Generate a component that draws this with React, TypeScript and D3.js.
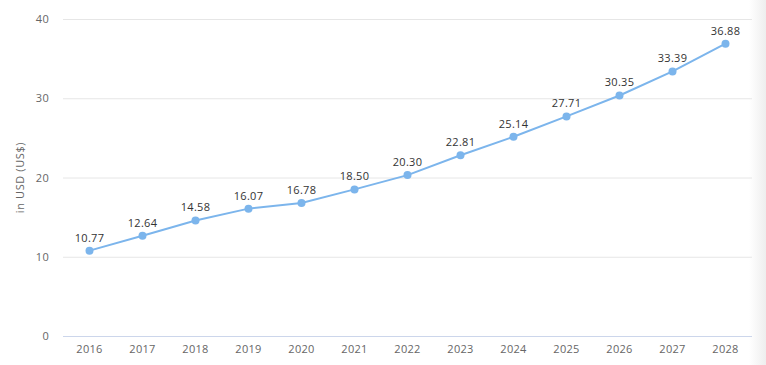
import React from 'react';
import * as d3 from 'd3';

const years = ['2016', '2017', '2018', '2019', '2020', '2021', '2022', '2023', '2024', '2025', '2026', '2027', '2028'];
const values = [10.77, 12.64, 14.58, 16.07, 16.78, 18.5, 20.3, 22.81, 25.14, 27.71, 30.35, 33.39, 36.88];
const yTicks = [0, 10, 20, 30, 40];

const W = 766;
const H = 365;
const left = 63;
const right = 752;
const top = 19;
const bottom = 336;

export default function App() {
  const x = d3.scaleBand<string>().domain(years).range([left, right]);
  const y = d3.scaleLinear().domain([0, 40]).range([bottom, top]);
  const cx = (d: string) => (x(d) ?? 0) + x.bandwidth() / 2;

  const line = d3
    .line<number>()
    .x((_, i) => cx(years[i]))
    .y((d) => y(d));

  const font = '"Open Sans", "DejaVu Sans", sans-serif';

  return (
    <svg
      width={W}
      height={H}
      style={{ position: 'absolute', left: 0, top: 0, background: '#fff' }}
      fontFamily={font}
    >
      <defs>
        <linearGradient id="edge" x1="0" x2="1" y1="0" y2="0">
          <stop offset="0" stopColor="#fff" />
          <stop offset="1" stopColor="#eeeeee" />
        </linearGradient>
      </defs>
      <rect x={749} y={0} width={17} height={H} fill="url(#edge)" />

      {/* gridlines */}
      {yTicks.map((t) => (
        <g key={t}>
          {t !== 0 && (
            <line x1={left} x2={right} y1={y(t) + 0.5} y2={y(t) + 0.5} stroke="#e6e6e6" strokeWidth={1} />
          )}
          <text x={49} y={y(t) + 4} textAnchor="end" fontSize={11} fill="#666" letterSpacing={0.3}>
            {t}
          </text>
        </g>
      ))}
      <line x1={left} x2={right} y1={bottom + 0.5} y2={bottom + 0.5} stroke="#ccd6eb" strokeWidth={1} />

      {years.map((yr) => (
        <text key={yr} x={cx(yr)} y={353} textAnchor="middle" fontSize={11} fill="#666" letterSpacing={0.3}>
          {yr}
        </text>
      ))}

      <text
        transform={`translate(24,${(top + bottom) / 2}) rotate(-90)`}
        textAnchor="middle"
        fontSize={11}
        fill="#666"
        letterSpacing={0.6}
      >
        in USD (US$)
      </text>

      <path d={line(values) ?? ''} fill="none" stroke="#7cb5ec" strokeWidth={2} />
      {values.map((v, i) => (
        <circle key={i} cx={cx(years[i])} cy={y(v)} r={4} fill="#7cb5ec" />
      ))}
      {values.map((v, i) => (
        <text
          key={'l' + i}
          x={cx(years[i])}
          y={y(v) - 9}
          textAnchor="middle"
          fontSize={11}
          fill="#333"
          letterSpacing={0.3}
        >
          {v.toFixed(2)}
        </text>
      ))}
    </svg>
  );
}
